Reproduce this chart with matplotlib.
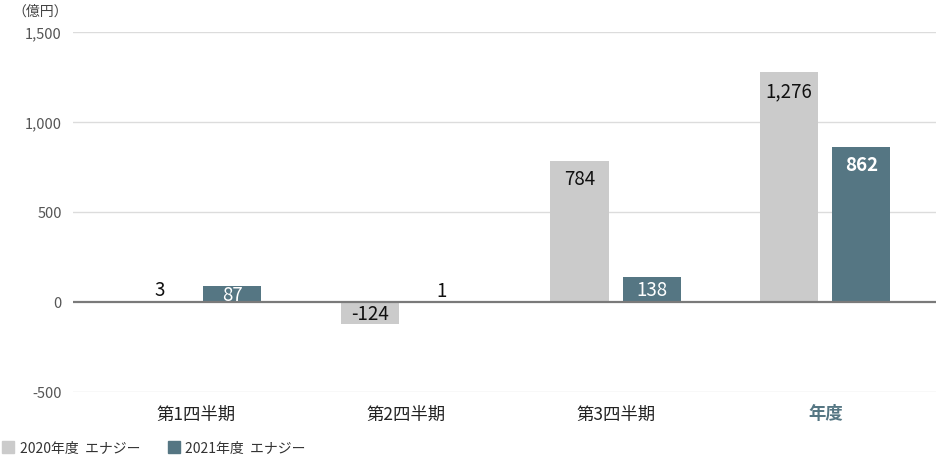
import matplotlib
matplotlib.use("Agg")
import matplotlib.pyplot as plt
from matplotlib.patches import Patch

plt.rcParams['font.family'] = ['Noto Sans CJK JP', 'DejaVu Sans']

categories = ["第1四半期", "第2四半期", "第3四半期", "年度"]
values_2020 = [3, -124, 784, 1276]
values_2021 = [87, 1, 138, 862]
labels_2020 = ["3", "-124", "784", "1,276"]
labels_2021 = ["87", "1", "138", "862"]
series_names = ["2020年度  エナジー", "2021年度  エナジー"]
yticks = [-500, 0, 500, 1000, 1500]
ytick_labels = ["-500", "0", "500", "1,000", "1,500"]
unit_label = "（億円）"

c2020 = "#cbcbcb"
c2021 = "#557683"

W, H = 936, 456
fig = plt.figure(figsize=(W / 100, H / 100), dpi=100)
ax = fig.add_axes([73 / W, 1 - 393 / H, 1 - 73 / W, (393 - 33) / H])

x = list(range(len(categories)))
bw = 0.277
off = 0.172
ax.set_xlim(-0.587, 3.528)
ax.set_ylim(-500, 1500)

ax.bar([i - off for i in x], values_2020, width=bw, color=c2020, zorder=2)
ax.bar([i + off for i in x], values_2021, width=bw, color=c2021, zorder=2)

for y in yticks:
    if y == 0:
        ax.axhline(0, color="#7a7a7a", lw=1.6, zorder=3)
    else:
        ax.axhline(y, color="#dcdcdc", lw=1.0, zorder=1)

ax.set_yticks(yticks)
ax.set_yticklabels(ytick_labels, color="#555555", fontsize=10.5)
ax.set_xticks(x)
ax.set_xticklabels(categories, fontsize=12.5, color="#222222")
ax.tick_params(axis="both", length=0)
ax.tick_params(axis="y", pad=8)
ax.tick_params(axis="x", pad=9)
for t in ax.get_xticklabels():
    if t.get_text() == "年度":
        t.set_color(c2021)
        t.set_fontweight("bold")
for s in ax.spines.values():
    s.set_visible(False)

# px per data unit
px_per_unit = (393 - 33) / 2000.0
pt_per_px = 72 / 100.0

def put_label(xc, v, txt, color, bold=False):
    hpx = abs(v) * px_per_unit
    if abs(v) < 20:
        ax.annotate(txt, (xc, max(v, 0)), xytext=(0, 1 * pt_per_px), textcoords="offset points",
                    ha="center", va="bottom", fontsize=13.5, color="#111111", zorder=4)
        return
    if v > 0:
        dy = -min(18, hpx / 2)
        base = v
    else:
        dy = -min(15, hpx / 2)
        base = 0
    ax.annotate(txt, (xc, base), xytext=(0, dy * pt_per_px), textcoords="offset points",
                ha="center", va="center", fontsize=13.5, color=color,
                fontweight="bold" if bold else "normal", zorder=4)

for i in x:
    put_label(i - off, values_2020[i], labels_2020[i], "#111111")
    put_label(i + off, values_2021[i], labels_2021[i], "white", bold=(i == 3))

fig.text(12 / W, 1 - 12 / H, unit_label, fontsize=10, color="#444444", va="center", ha="left")

handles = [Patch(color=c2020), Patch(color=c2021)]
fig.legend(handles, series_names, loc="lower left", bbox_to_anchor=(-0.011, -0.027), ncol=2,
           frameon=False, handlelength=0.85, handleheight=0.85, handletextpad=0.4,
           columnspacing=2.0, fontsize=10, labelcolor="#333333")

fig.savefig("out.png", dpi=100, facecolor="white")
